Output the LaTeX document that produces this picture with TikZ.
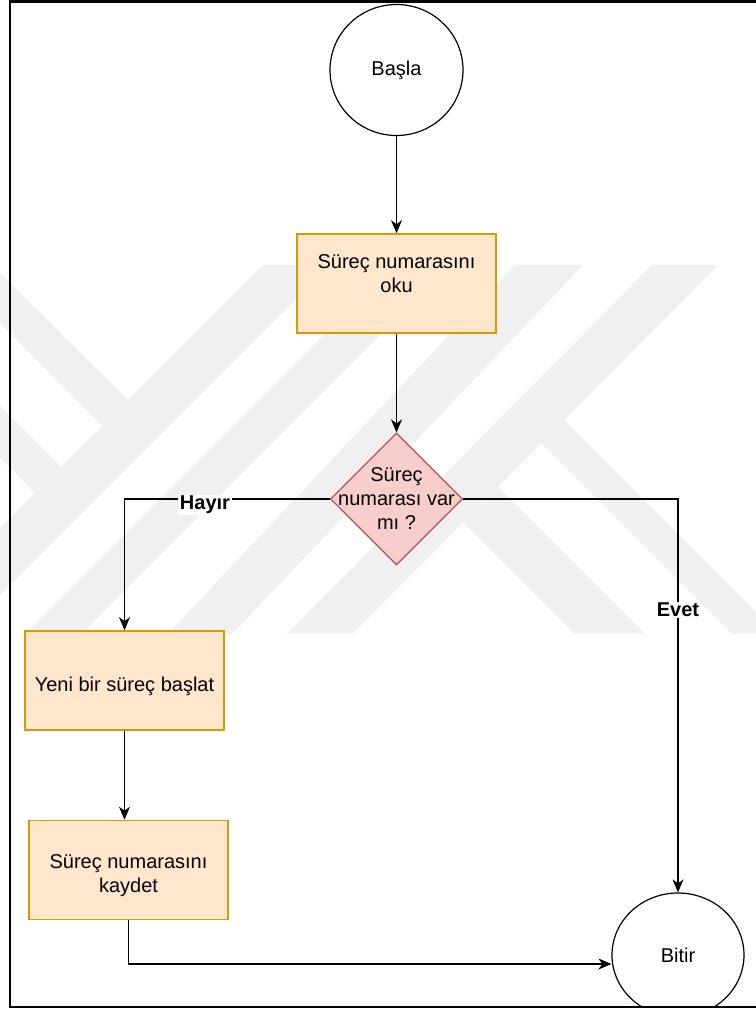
\documentclass[tikz,border=0pt]{standalone}
\usepackage{fontspec}
\setmainfont{Liberation Sans}
\usetikzlibrary{shapes.geometric,arrows.meta}

\definecolor{procfill}{HTML}{FFE6CC}
\definecolor{procline}{HTML}{D79B00}
\definecolor{decfill}{HTML}{F8CECC}
\definecolor{decline}{HTML}{B85450}
\definecolor{wmgray}{RGB}{240,240,240}

\begin{document}
\begin{tikzpicture}[x=1pt,y=-1pt,
  every node/.style={font=\fontsize{20}{24}\selectfont, inner sep=0pt, align=center},
  txt/.style={},
  terminal/.style={draw=black, fill=white, line width=1.2pt, ellipse},
  proc/.style={draw=procline, fill=procfill, line width=1.6pt, rectangle,
               minimum width=199pt, minimum height=99pt},
  decision/.style={draw=decline, fill=decfill, line width=1.2pt, diamond,
                   minimum width=132pt, minimum height=132pt},
  conn/.style={draw=black, line width=1.7pt,
               -{Stealth[length=13pt,width=11pt,inset=4pt]}},
  lbl/.style={fill=white, font=\fontsize{20}{24}\selectfont\bfseries, inner sep=1.5pt},
  wm/.style={fill=wmgray},
  frame/.style={draw=black, line width=2.8pt}
]
\useasboundingbox (0,0) rectangle (755,1012);

% background logo stripes
\fill[wm] (263,265) -- (330,265) -- (0,595) -- (0,528) -- cycle;
\fill[wm] (394,265) -- (450,265) -- (81,634) -- (25,634) -- cycle;
\fill[wm] (515,265) -- (583,265) -- (232,634) -- (168,634) -- cycle;
\fill[wm] (652,265) -- (718,265) -- (352,634) -- (287,634) -- cycle;
\fill[wm] (0,273) -- (128,400) -- (102,426) -- (0,323) -- cycle;
\fill[wm] (0,406) -- (61,467) -- (35,493) -- (0,457) -- cycle;
\fill[wm] (564,420) -- (541,443) -- (732,634) -- (778,634) -- cycle;
\fill[wm] (498,487) -- (463,522) -- (575,634) -- (645,634) -- cycle;

% flowchart blocks
\node[terminal, minimum width=133pt, minimum height=131pt] (basla) at (396.5,70) {Başla};
\node[proc] (b1) at (396.5,283.5) {};
\node[txt] (b1t) at (396.5,274) {Süreç numarasını\\oku};
\node[decision] (dec) at (396.5,499) {};
\node[txt] (dect) at (396.5,499) {Süreç\\numarası var\\mı ?};
\node[proc] (b2) at (124.5,680.5) {};
\node[txt] (b2t) at (124.5,686) {Yeni bir süreç başlat};
\node[proc] (b3) at (128.5,870) {};
\node[txt] (b3t) at (128.5,876) {Süreç numarasını\\kaydet};
\node[terminal, minimum width=132pt, minimum height=124pt] (bitir) at (678,955) {Bitir};

% connectors
\draw[conn] (basla) -- (b1);
\draw[conn] (b1) -- (dec);
\draw[conn] (dec.west) -| (b2.north);
\draw[conn] (dec.east) -| (bitir.north);
\draw[conn] (b2.south) -- (b2.south |- b3.north);
\draw[conn] (b3.south) |- ([yshift=-9pt]bitir.west);

% branch labels
\node[lbl] (hayir) at (205,505) {Hayır};
\node[lbl] (evet) at (678,610) {Evet};

% outer frame, with the strip below it kept blank
\fill[white] (0,1007) rectangle (760,1013);
\draw[frame] (770,1.5) -- (10,1.5) -- (10,1007) -- (770,1007);
\end{tikzpicture}
\end{document}
